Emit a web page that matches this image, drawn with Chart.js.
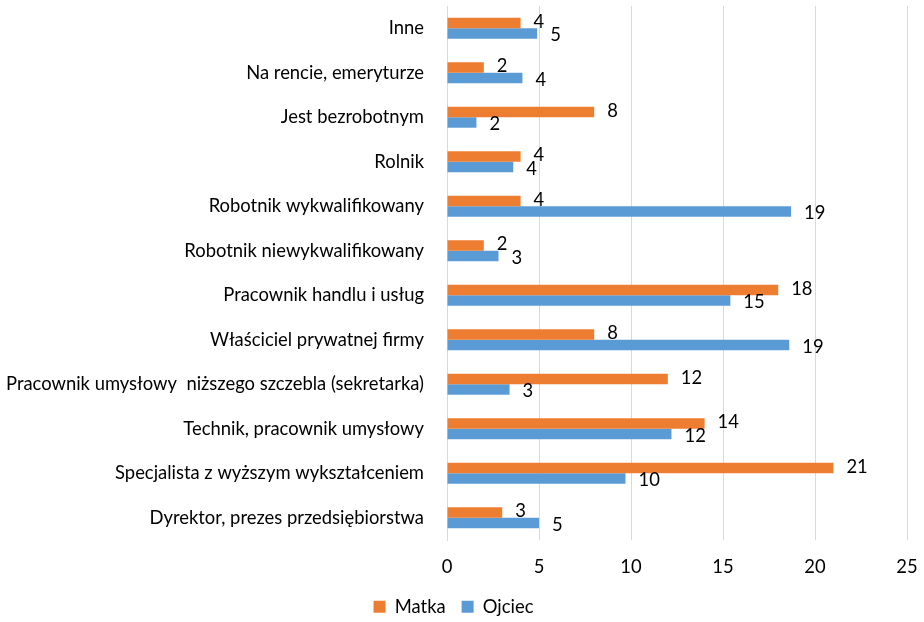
<!DOCTYPE html>
<html>
<head>
<meta charset="utf-8">
<script src="https://cdn.jsdelivr.net/npm/chart.js@4"></script>
<style>
  html, body { margin: 0; padding: 0; background: #ffffff; }
  #wrap { width: 924px; height: 622px; position: relative; }
</style>
</head>
<body>
<div id="wrap"><canvas id="c" width="924" height="622"></canvas></div>
<script>
const categories = [
  "Inne",
  "Na rencie, emeryturze",
  "Jest bezrobotnym",
  "Rolnik",
  "Robotnik wykwalifikowany",
  "Robotnik niewykwalifikowany",
  "Pracownik handlu i usług",
  "Właściciel prywatnej firmy",
  "Pracownik umysłowy  niższego szczebla (sekretarka)",
  "Technik, pracownik umysłowy",
  "Specjalista z wyższym wykształceniem",
  "Dyrektor, prezes przedsiębiorstwa"
];
const matka  = [4.0, 2.0, 8.0, 4.0, 4.0, 2.0, 18.0, 8.0, 12.0, 14.0, 21.0, 3.0];
const ojciec = [4.9, 4.1, 1.6, 3.6, 18.7, 2.8, 15.4, 18.6, 3.4, 12.2, 9.7, 5.0];
const xTicks = [0, 5, 10, 15, 20, 25];

const FONT = "Lato, 'Open Sans', sans-serif";
const FS = 18.4;

const valueLabels = {
  id: 'valueLabels',
  afterDatasetsDraw(chart) {
    const ctx = chart.ctx;
    ctx.save();
    ctx.font = FS + "px " + FONT;
    ctx.fillStyle = '#000000';
    ctx.textAlign = 'left';
    ctx.textBaseline = 'middle';
    chart.data.datasets.forEach((ds, di) => {
      const meta = chart.getDatasetMeta(di);
      meta.data.forEach((bar, i) => {
        const v = ds.data[i];
        const dy = di === 0 ? -1 : 2;
        ctx.fillText(String(Math.round(v)), bar.x + 13, bar.y + dy);
      });
    });
    ctx.restore();
  }
};

new Chart(document.getElementById('c'), {
  type: 'bar',
  data: {
    labels: categories,
    datasets: [
      { label: 'Matka', data: matka, backgroundColor: '#ED7D31', borderWidth: 0,
        categoryPercentage: 0.47, barPercentage: 1.0 },
      { label: 'Ojciec', data: ojciec, backgroundColor: '#5B9BD5', borderWidth: 0,
        categoryPercentage: 0.47, barPercentage: 1.0 }
    ]
  },
  options: {
    indexAxis: 'y',
    responsive: false,
    maintainAspectRatio: false,
    animation: false,
    layout: { padding: { left: 0, right: 17, top: 6, bottom: -4 } },
    scales: {
      x: {
        min: 0, max: 25,
        afterBuildTicks(scale) { scale.ticks = xTicks.map(v => ({ value: v })); },
        afterFit(scale) { scale.height = 41.6; scale.paddingLeft = 0; scale.paddingRight = 0; },
        grid: { color: '#d9d9d9', lineWidth: 1, drawTicks: false },
        border: { display: false },
        ticks: { color: '#000000', font: { family: FONT, size: FS }, padding: 16 }
      },
      y: {
        afterFit(scale) { scale.width = 447; scale.paddingTop = 0; scale.paddingBottom = 0; },
        grid: { display: false, drawTicks: false },
        border: { display: true, color: '#d9d9d9', width: 1 },
        ticks: { color: '#000000', font: { family: FONT, size: FS }, padding: 23, autoSkip: false }
      }
    },
    plugins: {
      legend: {
        position: 'bottom',
        labels: {
          boxWidth: 12, boxHeight: 12, padding: 16,
          color: '#000000',
          font: { family: FONT, size: FS }
        }
      },
      tooltip: { enabled: false }
    }
  },
  plugins: [valueLabels]
});
</script>
</body>
</html>
